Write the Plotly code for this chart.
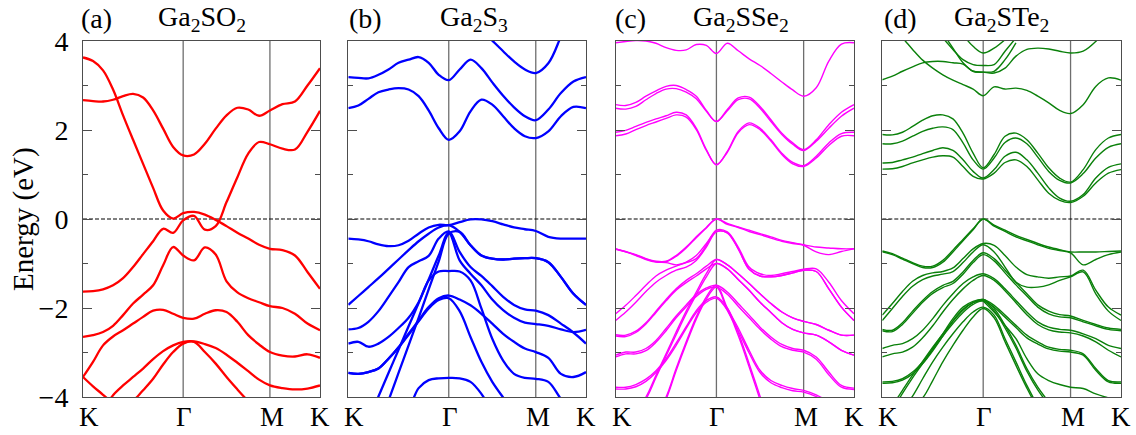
import numpy as np
import plotly.graph_objects as go

N = None

# ---- k-path K-Γ-M-K (hexagonal BZ, units of 2π/a) ----
K_START = 0.0
GAMMA = 2 / 3
M_PT = GAMMA + 1 / np.sqrt(3)
K_END = M_PT + 1 / 3
KPATH = np.concatenate([np.linspace(K_START, GAMMA, 11),
                        np.linspace(GAMMA, M_PT, 9)[1:],
                        np.linspace(M_PT, K_END, 5)[1:]])
HSP_POS = [K_START, GAMMA, M_PT, K_END]
HSP_LABELS = ["K", "Γ", "M", "K"]

PANEL_TAGS = ["(a)", "(b)", "(c)", "(d)"]
PANEL_NAMES = ["Ga<sub>2</sub>SO<sub>2</sub>", "Ga<sub>2</sub>S<sub>3</sub>",
               "Ga<sub>2</sub>SSe<sub>2</sub>", "Ga<sub>2</sub>STe<sub>2</sub>"]
PANEL_COLORS = ["#ff0000", "#0000ff", "#ff00ff", "#0a800a"]
Y_TICKS = [-4, -2, 0, 2, 4]
Y_TICKTEXT = ["−4", "−2", "0", "2", "4"]

# ---- (a) Ga2SO2 ----
A1 = [3.63, 3.55, 3.34, 2.91, 2.33, 1.78, 1.24, 0.70, 0.19, 0.01, 0.13, 0.16, 0.10, -0.02, -0.16, -0.31, -0.44, -0.58, -0.67, -0.70, -0.82, -1.19, -1.57]
A2 = [-1.63, -1.62, -1.58, -1.49, -1.33, -1.08, -0.79, -0.50, -0.22, -0.31, -0.03, 0.07, -0.24, -0.16, 0.38, 0.94, 1.47, 1.73, 1.68, 1.58, 1.56, 1.96, 2.43]
A3 = [2.67, 2.65, 2.64, 2.68, 2.76, 2.81, 2.73, 2.44, 2.03, 1.62, 1.43, 1.45, 1.69, 2.03, 2.33, 2.50, 2.46, 2.32, 2.44, 2.58, 2.64, 3.00, 3.39]
A4 = [-2.65, -2.61, -2.54, -2.40, -2.16, -1.90, -1.70, -1.49, -1.04, -0.63, -0.82, -0.93, -0.64, -0.80, -1.40, -1.65, -1.78, -1.87, -1.96, -2.00, -2.13, -2.35, -2.50]
A5 = [-3.55, -3.21, -2.84, -2.64, -2.50, -2.35, -2.20, -2.06, -2.04, -2.13, -2.22, -2.24, -2.13, -2.05, -2.09, -2.31, -2.61, -2.82, -2.99, -3.07, -3.09, -3.04, -3.12]
A6 = [-4.9, -4.6, -4.3, -3.96, -3.74, -3.55, -3.36, -3.15, -2.97, -2.84, -2.76, -2.75, -2.81, -2.90, -3.05, -3.23, -3.42, -3.61, -3.74, -3.80, -3.83, -3.81, -3.74]
A7 = [N, N, N, -4.7, -4.4, -4.1, -3.85, -3.59, -3.27, -2.99, -2.80, -2.76, -2.99, -3.25, -3.55, -3.83, -4.1, -4.4, N, N, N, N, N]
A8 = [-3.55, -3.76, -3.95, -4.15, -4.4, N, N, N, N, N, N, N, N, N, N, N, N, N, N, N, N, N, N]
BANDS_A = [A1, A2, A3, A4, A5, A6, A7, A8]

# ---- (b) Ga2S3 ----
B1 = [-0.44, -0.46, -0.50, -0.57, -0.61, -0.59, -0.49, -0.33, -0.19, -0.13, -0.14, -0.07, -0.01, -0.01, -0.05, -0.12, -0.19, -0.23, -0.27, -0.40, -0.44, -0.44, -0.44]
B2 = [-1.93, -1.73, -1.53, -1.33, -1.12, -0.91, -0.70, -0.50, -0.33, -0.19, -0.14, -0.29, -0.59, -0.82, -0.89, -0.91, -0.89, -0.88, -0.88, -0.97, -1.30, -1.68, -1.93]
B3 = [-2.48, -2.45, -2.31, -2.07, -1.75, -1.42, -1.08, -0.95, -0.83, -0.44, -0.28, -0.74, -1.08, -1.28, -1.51, -1.75, -1.93, -2.03, -2.06, -2.16, -2.35, -2.55, -2.80]
B4 = [N, N, -4.51, -3.99, -3.46, -2.94, -2.41, -1.89, -1.36, -0.82, -0.31, -0.93, -1.23, -1.49, -1.81, -2.05, -2.22, -2.33, -2.36, -2.40, -2.48, -2.54, -2.49]
B5 = [N, N, N, -4.71, -4.08, -3.46, -2.84, -2.22, -1.58, -0.95, -0.33, -0.29, -0.59, -0.82, -0.89, -0.91, -0.89, -0.88, -0.88, -0.97, -1.30, -1.68, -1.93]
B6 = [-2.80, -2.76, -2.87, -2.80, -2.65, -2.45, -2.22, -1.87, -1.38, -1.18, -1.17, -1.18, -1.38, -2.01, -2.69, -3.18, -3.48, -3.57, -3.59, -3.66, -4.04, -4.34, N]
B7 = [-3.46, -3.48, -3.44, -3.36, -3.14, -2.88, -2.58, -2.28, -1.98, -1.78, -1.72, -1.81, -1.94, -2.13, -2.35, -2.58, -2.76, -2.91, -2.99, -3.12, -3.48, -3.55, -3.44]
B8 = [-3.46, -3.48, -3.44, -3.36, -3.14, -2.89, -2.60, -2.30, -2.01, -1.82, -1.78, -2.07, -2.65, -3.21, -3.66, -4.01, -4.34, N, N, N, N, N, N]
B9 = [N, N, N, N, N, -4.45, -4.26, -3.80, -3.62, -3.58, -3.57, -3.58, -3.66, -3.93, -4.34, N, N, N, N, N, N, N, N]
BC1 = [3.19, 3.17, 3.16, 3.24, 3.36, 3.51, 3.58, 3.64, 3.51, 3.24, 3.12, 3.36, 3.58, 3.39, 3.07, 2.77, 2.51, 2.31, 2.22, 2.46, 2.83, 3.09, 3.19]
BC2 = [2.49, 2.55, 2.70, 2.85, 2.91, 2.94, 2.91, 2.76, 2.44, 2.04, 1.78, 1.97, 2.42, 2.68, 2.57, 2.31, 2.04, 1.86, 1.82, 1.97, 2.31, 2.52, 2.49]
BC3 = [N, N, N, N, N, N, N, N, N, N, N, N, 4.6, 4.25, 4.01, 3.77, 3.54, 3.36, 3.28, 3.50, 4.10, 4.8, N]
BANDS_B = [B1, B2, B3, B4, B5, B6, B7, B8, B9, BC1, BC2, BC3]

# ---- (c) Ga2SSe2 ----
CC1U = [2.57, 2.55, 2.62, 2.76, 2.88, 2.98, 3.00, 2.91, 2.76, 2.44, 2.19, 2.46, 2.72, 2.74, 2.53, 2.23, 1.93, 1.71, 1.56, 1.78, 2.12, 2.40, 2.57]
CC1L = [2.49, 2.47, 2.53, 2.68, 2.82, 2.92, 2.93, 2.85, 2.70, 2.42, 2.19, 2.43, 2.68, 2.70, 2.49, 2.19, 1.90, 1.68, 1.54, 1.75, 2.04, 2.31, 2.49]
CC2U = [1.95, 1.99, 2.08, 2.17, 2.25, 2.32, 2.40, 2.34, 2.04, 1.56, 1.22, 1.52, 1.97, 2.16, 2.04, 1.78, 1.48, 1.27, 1.20, 1.41, 1.71, 1.92, 1.95]
CC2L = [1.87, 1.91, 2.01, 2.10, 2.18, 2.26, 2.34, 2.29, 2.01, 1.54, 1.22, 1.50, 1.94, 2.12, 2.01, 1.75, 1.45, 1.24, 1.18, 1.37, 1.65, 1.86, 1.87]
CC3 = [3.96, 3.99, 4.01, 4.00, 3.95, 3.85, 3.79, 3.80, 3.92, 3.90, 3.72, 3.95, 3.78, 3.60, 3.45, 3.27, 3.08, 2.90, 2.76, 2.95, 3.55, 3.93, 3.96]
C1A = [-0.67, -0.73, -0.80, -0.89, -0.95, -0.95, -0.82, -0.63, -0.40, -0.19, 0.00, -0.10, -0.18, -0.25, -0.33, -0.40, -0.48, -0.53, -0.58, -0.63, -0.65, -0.67, -0.67]
C1B = [-0.67, -0.74, -0.81, -0.90, -0.96, -0.96, -0.84, -0.65, -0.42, -0.20, 0.00, -0.12, -0.19, -0.28, -0.35, -0.43, -0.50, -0.55, -0.59, -0.74, -0.80, -0.73, -0.67]
C2A = [-0.68, -0.74, -0.82, -0.91, -0.97, -0.98, -1.03, -0.98, -0.89, -0.59, -0.25, -0.29, -0.63, -1.08, -1.23, -1.27, -1.23, -1.18, -1.13, -1.12, -1.42, -1.83, -2.13]
C2B = [-2.13, -1.94, -1.72, -1.49, -1.28, -1.15, -1.06, -0.97, -0.82, -0.55, -0.28, -0.31, -0.67, -1.13, -1.28, -1.30, -1.27, -1.21, -1.15, -1.18, -1.57, -1.98, -2.28]
C2C = [-2.28, -2.09, -1.87, -1.63, -1.42, -1.27, -1.15, -1.08, -0.93, -0.63, -0.29, -0.31, -0.67, -1.13, -1.28, -1.30, -1.27, -1.21, -1.15, -1.18, -1.57, -1.98, -2.28]
C3A = [-2.60, -2.61, -2.52, -2.33, -2.07, -1.81, -1.57, -1.38, -1.23, -1.06, -0.91, -1.03, -1.23, -1.45, -1.68, -1.90, -2.09, -2.22, -2.30, -2.37, -2.50, -2.61, -2.61]
C3B = [-2.63, -2.64, -2.55, -2.36, -2.10, -1.84, -1.60, -1.43, -1.28, -1.12, -1.00, -1.12, -1.36, -1.60, -1.87, -2.10, -2.33, -2.48, -2.56, -2.61, -2.76, -2.95, -3.06]
C3C = [-4.8, -4.6, -4.3, -4.0, -3.51, -3.03, -2.54, -2.07, -1.64, -1.23, -0.91, -1.03, -1.23, -1.45, -1.68, -1.90, -2.09, -2.22, -2.30, -2.37, -2.50, -2.61, -2.61]
C3D = [-4.85, -4.65, -4.35, -4.05, -3.56, -3.08, -2.60, -2.13, -1.70, -1.30, -1.00, -1.12, -1.36, -1.60, -1.87, -2.10, -2.33, -2.48, -2.56, -2.61, -2.76, -2.95, -3.06]
C4A = [-3.06, -2.99, -2.99, -2.91, -2.73, -2.46, -2.18, -1.93, -1.70, -1.55, -1.49, -1.64, -1.90, -2.16, -2.43, -2.65, -2.82, -2.91, -2.95, -3.10, -3.44, -3.74, -3.80]
C4B = [-3.10, -3.03, -3.03, -2.96, -2.77, -2.51, -2.22, -1.97, -1.74, -1.58, -1.53, -1.69, -1.96, -2.22, -2.48, -2.70, -2.87, -2.95, -2.99, -3.15, -3.50, -3.78, -3.83]
C4C = [N, N, N, -4.8, -4.4, -4.0, -3.36, -2.76, -2.20, -1.75, -1.49, -2.00, -2.45, -2.95, -3.40, -3.63, -3.74, -3.81, -3.85, -3.95, -4.11, -4.26, -4.41]
C4D = [N, N, N, -4.85, -4.45, -4.05, -3.41, -2.81, -2.25, -1.80, -1.53, -2.05, -2.51, -3.01, -3.45, -3.68, -3.79, -3.86, -3.89, -3.99, -4.15, -4.30, -4.45]
C5A = [-3.78, -3.78, -3.72, -3.60, -3.41, -3.14, -2.79, -2.42, -2.06, -1.83, -1.75, -2.00, -2.55, -3.25, -3.98, -4.7, N, N, N, N, N, N, N]
C5B = [-3.82, -3.82, -3.77, -3.65, -3.45, -3.18, -2.84, -2.46, -2.10, -1.87, -1.78, -2.05, -2.62, -3.32, -4.06, -4.8, N, N, N, N, N, N, N]
BANDS_C = [CC1U, CC1L, CC2U, CC2L, CC3, C1A, C1B, C2A, C2B, C2C, C3A, C3B, C3C, C3D,
           C4A, C4B, C4C, C4D, C5A, C5B]

# ---- (d) Ga2STe2 ----
DC1 = [1.90, 1.89, 1.95, 2.08, 2.22, 2.32, 2.34, 2.25, 1.93, 1.48, 1.15, 1.45, 1.86, 1.93, 1.78, 1.48, 1.15, 0.92, 0.83, 1.11, 1.56, 1.82, 1.90]
DC2 = [1.69, 1.69, 1.75, 1.86, 1.97, 2.04, 2.07, 2.01, 1.71, 1.33, 1.12, 1.37, 1.72, 1.82, 1.69, 1.39, 1.07, 0.87, 0.81, 1.02, 1.37, 1.61, 1.69]
DC3 = [1.26, 1.27, 1.33, 1.39, 1.47, 1.54, 1.60, 1.54, 1.33, 1.07, 0.92, 1.11, 1.41, 1.50, 1.33, 1.03, 0.70, 0.47, 0.40, 0.55, 0.92, 1.16, 1.24]
DC4 = [1.12, 1.13, 1.18, 1.26, 1.33, 1.39, 1.42, 1.39, 1.18, 0.96, 0.90, 1.03, 1.27, 1.33, 1.18, 0.88, 0.58, 0.42, 0.37, 0.51, 0.81, 1.03, 1.11]
DC5 = [4.6, 4.3, 4.07, 3.81, 3.57, 3.39, 3.24, 3.12, 3.02, 2.92, 2.77, 2.97, 2.92, 2.94, 2.89, 2.76, 2.61, 2.44, 2.37, 2.57, 2.98, 3.17, 3.12]
DC6 = [3.13, 3.21, 3.32, 3.42, 3.51, 3.54, 3.54, 3.51, 3.48, 3.32, 3.30, 3.28, 3.39, 3.66, 3.81, 3.84, 3.82, 3.77, 3.73, 3.77, 3.99, 4.33, N]
DC7 = [N, N, N, N, N, N, N, N, 4.14, 3.88, 3.73, 3.84, 4.03, N, N, N, N, N, N, N, N, N, N]
DC8 = [N, N, N, N, N, N, 4.07, 3.81, 3.58, 3.47, 3.45, 3.47, 3.77, 4.07, N, N, N, N, N, N, N, N, N]
DC9 = [N, N, N, N, N, N, 4.18, 3.84, 3.51, 3.32, 3.30, 3.32, 3.58, 3.96, N, N, N, N, N, N, N, N, N]
D1A = [-0.72, -0.78, -0.88, -0.98, -1.06, -1.06, -0.93, -0.70, -0.46, -0.22, 0.00, -0.14, -0.25, -0.37, -0.46, -0.55, -0.63, -0.69, -0.74, -0.74, -0.74, -0.73, -0.72]
D1B = [-0.74, -0.80, -0.90, -1.00, -1.09, -1.09, -0.97, -0.74, -0.49, -0.24, 0.00, -0.16, -0.28, -0.40, -0.49, -0.58, -0.66, -0.71, -0.76, -1.03, -0.91, -0.80, -0.74]
D2A = [-2.16, -1.90, -1.63, -1.40, -1.27, -1.21, -1.18, -1.10, -0.89, -0.67, -0.55, -0.59, -0.82, -1.08, -1.25, -1.30, -1.33, -1.30, -1.28, -1.15, -1.60, -1.98, -2.16]
D2B = [-2.28, -2.01, -1.74, -1.51, -1.36, -1.28, -1.24, -1.18, -0.98, -0.74, -0.58, -0.74, -1.08, -1.42, -1.53, -1.53, -1.48, -1.38, -1.30, -1.19, -1.68, -2.07, -2.28]
D3A = [-2.48, -2.50, -2.33, -2.07, -1.83, -1.63, -1.49, -1.40, -1.19, -0.93, -0.76, -0.89, -1.15, -1.42, -1.68, -1.93, -2.07, -2.15, -2.18, -2.28, -2.37, -2.45, -2.48]
D3B = [-2.51, -2.53, -2.37, -2.12, -1.87, -1.67, -1.54, -1.45, -1.24, -0.98, -0.80, -0.94, -1.21, -1.48, -1.73, -1.98, -2.13, -2.20, -2.22, -2.31, -2.40, -2.48, -2.51]
D4A = [-2.91, -2.84, -2.80, -2.69, -2.50, -2.24, -1.94, -1.68, -1.45, -1.30, -1.23, -1.34, -1.57, -1.83, -2.09, -2.31, -2.43, -2.48, -2.50, -2.58, -2.69, -2.84, -2.91]
D4B = [-3.10, -3.03, -2.99, -2.88, -2.67, -2.40, -2.09, -1.81, -1.57, -1.38, -1.27, -1.38, -1.61, -1.88, -2.15, -2.37, -2.49, -2.54, -2.56, -2.63, -2.76, -2.95, -3.10]
D5A = [-3.66, -3.65, -3.59, -3.44, -3.21, -2.91, -2.58, -2.24, -1.98, -1.85, -1.81, -1.94, -2.16, -2.39, -2.61, -2.76, -2.88, -2.93, -2.95, -3.03, -3.36, -3.63, -3.66]
D5B = [-3.69, -3.68, -3.62, -3.48, -3.25, -2.96, -2.63, -2.29, -2.03, -1.88, -1.84, -1.98, -2.21, -2.44, -2.67, -2.81, -2.92, -2.97, -2.99, -3.06, -3.40, -3.66, -3.69]
D6A = [-4.6, -4.2, -3.85, -3.51, -3.20, -2.88, -2.58, -2.30, -2.05, -1.88, -1.81, -2.01, -2.39, -2.84, -3.36, -3.78, -4.11, -4.41, N, N, N, N, N]
D6B = [-4.7, -4.3, -3.92, -3.57, -3.25, -2.93, -2.63, -2.35, -2.10, -1.92, -1.84, -2.06, -2.45, -2.90, -3.42, -3.84, -4.17, -4.45, N, N, N, N, N]
D7A = [N, -4.6, -4.3, -3.98, -3.59, -3.21, -2.88, -2.58, -2.31, -2.09, -1.98, -2.16, -2.69, -3.21, -3.74, -4.19, -4.56, N, N, N, N, N, N]
D7B = [N, N, -4.5, -4.2, -4.02, -3.63, -3.21, -2.84, -2.50, -2.20, -2.01, -2.22, -2.76, -3.29, -3.80, -4.25, -4.6, N, N, N, N, N, N]
D8 = [N, N, N, N, N, N, N, N, N, N, -1.84, -2.09, -2.39, -2.69, -3.14, -3.48, -3.63, -3.72, -3.78, -3.81, -3.93, -4.02, -4.11]
BANDS_D = [DC1, DC2, DC3, DC4, DC5, DC6, DC7, DC8, DC9, D1A, D1B, D2A, D2B, D3A, D3B,
           D4A, D4B, D5A, D5B, D6A, D6B, D7A, D7B, D8]

ALL_BANDS = [BANDS_A, BANDS_B, BANDS_C, BANDS_D]
LINE_WIDTHS = [2.3, 2.3, 1.4, 1.4]

# ---- layout geometry (pixels) ----
W, H = 1136, 435
ML, MR, MT, MB = 83, 15, 41, 38
PLOT_W = W - ML - MR
PLOT_H = H - MT - MB
PANEL_PX = [(83, 320), (348.3, 586), (615.7, 854), (882.3, 1121)]


def px2x(px):
    return (px - ML) / PLOT_W


def py2y(py):
    return (H - MB - py) / PLOT_H


FONT = "Liberation Serif"
fig = go.Figure()

shapes = []
annotations = []
for i, bands in enumerate(ALL_BANDS):
    n = "" if i == 0 else str(i + 1)
    xa, ya = "x" + n, "y" + n
    for b in bands:
        fig.add_trace(go.Scatter(
            x=KPATH, y=b, mode="lines", xaxis=xa, yaxis=ya,
            line=dict(color=PANEL_COLORS[i], width=LINE_WIDTHS[i], shape="spline", smoothing=1.0),
            connectgaps=False, hoverinfo="skip"))
    p0, p1 = PANEL_PX[i]
    fig.layout["xaxis" + n] = dict(
        domain=[px2x(p0), px2x(p1)], range=[K_START, K_END], anchor=ya,
        showline=True, mirror=True, linecolor="#4d4d4d", linewidth=1,
        ticks="", showticklabels=False, showgrid=False, zeroline=False)
    fig.layout["yaxis" + n] = dict(
        domain=[0, 1], range=[-4, 4], anchor=xa,
        showline=True, mirror="ticks", linecolor="#4d4d4d", linewidth=1,
        tickvals=Y_TICKS, ticktext=Y_TICKTEXT, ticks="inside", ticklen=9,
        tickcolor="#4d4d4d", tickwidth=1.2,
        minor=dict(tickvals=[-3, -1, 1, 3], ticks="inside", ticklen=5,
                   tickcolor="#4d4d4d", tickwidth=1.2),
        showticklabels=(i == 0), ticklabelstandoff=8,
        tickfont=dict(family=FONT, size=28, color="black"),
        showgrid=False, zeroline=False)
    # high-symmetry vertical lines
    for xv in (GAMMA, M_PT):
        shapes.append(dict(type="line", xref=xa, yref=ya + " domain", x0=xv, x1=xv, y0=0, y1=1,
                           line=dict(color="#6e6e6e", width=1.3), layer="below"))
    # Fermi level
    shapes.append(dict(type="line", xref=xa + " domain", yref=ya, x0=0, x1=1, y0=0, y1=0,
                       line=dict(color="black", width=1, dash="4px,2px"), layer="below"))
    # k-point labels
    shifts = [6, 1, 2, 0]
    for j, (xv, lab) in enumerate(zip(HSP_POS, HSP_LABELS)):
        annotations.append(dict(x=xv, xref=xa, y=py2y(417), yref="paper", text=lab,
                                showarrow=False, xanchor="center", yanchor="middle",
                                xshift=shifts[j], font=dict(family=FONT, size=27, color="black")))

# panel tags and titles
TAG_PX = [79, 347, 613, 882]
TITLE_PX = [202, 474, 741, 1001]
for i in range(4):
    annotations.append(dict(x=px2x(TAG_PX[i]), xref="paper", y=py2y(19), yref="paper",
                            text=PANEL_TAGS[i], showarrow=False, xanchor="left", yanchor="middle",
                            font=dict(family=FONT, size=28, color="black")))
    annotations.append(dict(x=px2x(TITLE_PX[i]), xref="paper", y=py2y(19), yref="paper",
                            text=PANEL_NAMES[i], showarrow=False, xanchor="center", yanchor="middle",
                            font=dict(family=FONT, size=28, color="black")))

annotations.append(dict(x=px2x(23), xref="paper", y=py2y(219), yref="paper",
                        text="Energy (eV)", textangle=-90, showarrow=False,
                        xanchor="center", yanchor="middle",
                        font=dict(family=FONT, size=29, color="black")))

fig.update_layout(width=W, height=H, margin=dict(l=ML, r=MR, t=MT, b=MB),
                  paper_bgcolor="white", plot_bgcolor="white", showlegend=False,
                  shapes=shapes, annotations=annotations,
                  font=dict(family=FONT, size=27, color="black"))

fig.write_html("out.html")
